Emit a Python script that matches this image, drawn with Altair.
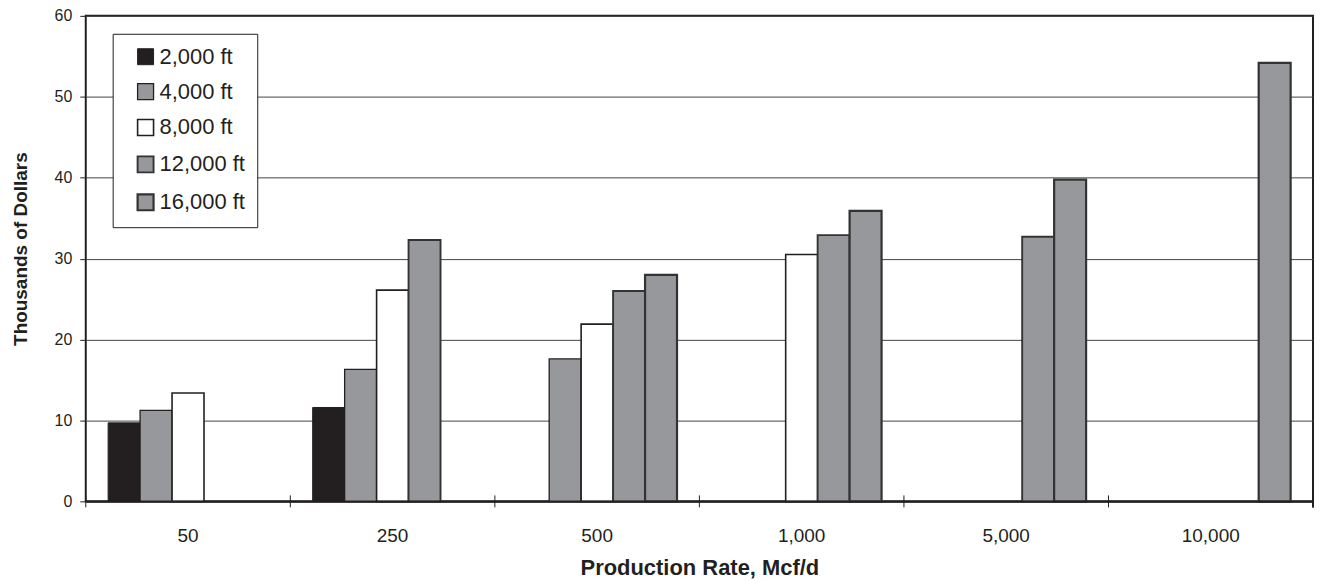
import altair as alt
import pandas as pd

rates = ["50", "250", "500", "1,000", "5,000", "10,000"]
depths = ["2,000 ft", "4,000 ft", "8,000 ft", "12,000 ft", "16,000 ft"]

d2000 = [9.7, 11.6, None, None, None, None]
d4000 = [11.25, 16.3, 17.6, None, None, None]
d8000 = [13.4, 26.1, 21.9, 30.5, None, None]
d12000 = [None, 32.3, 26.0, 32.9, 32.7, None]
d16000 = [None, None, 28.0, 35.9, 39.75, 54.2]

fills = ["#231f20", "#97989b", "#ffffff", "#97989b", "#97989b"]
strokes = ["#231f20", "#231f20", "#231f20", "#333333", "#333333"]
stroke_widths = [1, 2.2, 2.2, 1.2, 1.2]

rows = []
for dep, vals in zip(depths, [d2000, d4000, d8000, d12000, d16000]):
    for r, v in zip(rates, vals):
        if v is not None:
            rows.append({"rate": r, "depth": dep, "value": v})
df = pd.DataFrame(rows)
ticks_df = pd.DataFrame({"rate": rates})

W, H = 1231, 487
FONT = "Liberation Sans"
NBSP = chr(160)

x_enc = alt.X(
    "rate:N",
    sort=rates,
    scale=alt.Scale(domain=rates, paddingInner=0, paddingOuter=0),
    axis=alt.Axis(
        title="Production Rate, Mcf/d",
        labelAngle=0,
        ticks=False,
        tickSize=0,
        labelPadding=25,
        labelFontSize=19,
        labelColor="#231f20",
        labelFont=FONT,
        titleFont=FONT,
        titleFontSize=22,
        titleFontWeight="bold",
        titleColor="#231f20",
        titleX=W / 2,
        titleY=73,
        titleBaseline="alphabetic",
        domain=True,
        domainColor="#231f20",
        domainWidth=2,
        zindex=1,
    ),
)

bars = alt.Chart(df).mark_bar().encode(
    x=x_enc,
    xOffset=alt.XOffset(
        "depth:O",
        sort=depths,
        scale=alt.Scale(domain=depths, paddingInner=0, paddingOuter=0.7),
    ),
    y=alt.Y(
        "value:Q",
        scale=alt.Scale(domain=[0, 60], nice=False),
        axis=alt.Axis(
            title="Thousands of Dollars",
            values=[0, 10, 20, 30, 40, 50, 60],
            grid=True,
            gridColor="#444444",
            gridWidth=1,
            domain=False,
            tickSize=6,
            tickColor="#231f20",
            labelPadding=8,
            labelFontSize=16,
            labelColor="#231f20",
            labelFont=FONT,
            titleFont=FONT,
            titleFontSize=19,
            titleFontWeight="bold",
            titleColor="#231f20",
            titleX=-59,
            titleY=H / 2 - 10,
            titleBaseline="alphabetic",
        ),
    ),
    fill=alt.Fill(
        "depth:O",
        sort=depths,
        scale=alt.Scale(domain=depths, range=fills),
        legend=alt.Legend(
            title=None,
            orient="none",
            legendX=27,
            legendY=18,
            symbolType="square",
            symbolSize=256,
            symbolOffset=10,
            labelFontSize=22,
            labelFont=FONT,
            labelColor="#231f20",
            labelOffset=3,
            labelExpr="datum.label + '" + NBSP * 3 + "'",
            rowPadding=13,
            padding=12,
            strokeColor="#231f20",
            fillColor="#ffffff",
        ),
    ),
    stroke=alt.Stroke(
        "depth:O",
        sort=depths,
        scale=alt.Scale(domain=depths, range=strokes),
    ),
    strokeWidth=alt.StrokeWidth(
        "depth:O",
        sort=depths,
        scale=alt.Scale(domain=depths, range=stroke_widths),
    ),
)

tick_marks = alt.Chart(ticks_df).mark_rule(color="#231f20", strokeWidth=1).encode(
    x=alt.X("rate:N", sort=rates, bandPosition=0),
    y=alt.value(H - 6),
    y2=alt.value(H + 6),
)
right_tick = alt.Chart(ticks_df).mark_rule(color="#231f20", strokeWidth=1).encode(
    x=alt.value(W),
    y=alt.value(H - 6),
    y2=alt.value(H + 6),
)

chart = (
    alt.layer(bars, tick_marks, right_tick)
    .properties(
        width=W,
        height=H,
        autosize=alt.AutoSizeParams(type="none"),
        padding={"left": 78, "top": 7, "right": 4, "bottom": 78},
        background="#ffffff",
    )
    .configure_view(stroke="#231f20", strokeWidth=2)
)

chart.save("out.html", embed_options={"renderer": "svg", "actions": False})
